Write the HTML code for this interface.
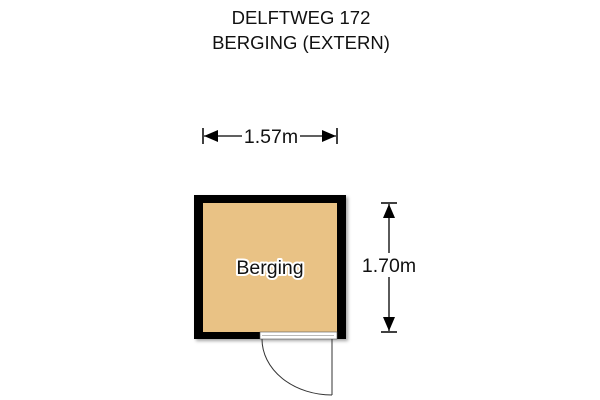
<!DOCTYPE html>
<html><head><style>
html,body{margin:0;padding:0;background:#fff;}
body{width:600px;height:400px;position:relative;overflow:hidden;font-family:"Liberation Sans",sans-serif;}
</style></head><body>
<svg width="600" height="400" viewBox="0 0 600 400" xmlns="http://www.w3.org/2000/svg" style="position:absolute;left:0;top:0">
<defs><filter id="sh" x="-10%" y="-10%" width="130%" height="130%"><feDropShadow dx="2" dy="2" stdDeviation="1.5" flood-color="#000" flood-opacity="0.35"/></filter></defs>
<text x="301" y="24" font-size="18.5" text-anchor="middle" fill="#111" font-family="Liberation Sans, sans-serif">DELFTWEG 172</text>
<text x="301" y="49" font-size="18.5" text-anchor="middle" fill="#111" font-family="Liberation Sans, sans-serif">BERGING (EXTERN)</text>
<!-- horizontal dim -->
<line x1="203" y1="128" x2="203" y2="144" stroke="#000" stroke-width="1.5"/>
<line x1="337" y1="128" x2="337" y2="144" stroke="#000" stroke-width="1.5"/>
<line x1="204" y1="136" x2="242" y2="136" stroke="#000" stroke-width="1.3"/>
<line x1="300" y1="136" x2="336" y2="136" stroke="#000" stroke-width="1.3"/>
<polygon points="204,136 218,130 218,142" fill="#000"/>
<polygon points="336,136 322,130 322,142" fill="#000"/>
<text x="271" y="143" font-size="19.5" text-anchor="middle" fill="#111" font-family="Liberation Sans, sans-serif">1.57m</text>
<!-- vertical dim -->
<line x1="381" y1="203" x2="397" y2="203" stroke="#000" stroke-width="1.5"/>
<line x1="381" y1="332" x2="397" y2="332" stroke="#000" stroke-width="1.5"/>
<line x1="389" y1="204" x2="389" y2="331" stroke="#000" stroke-width="1.3"/>
<polygon points="389,204 383,218 395,218" fill="#000"/>
<polygon points="389,331 383,317 395,317" fill="#000"/>
<rect x="360" y="253" width="60" height="24" fill="#fff"/>
<text x="389" y="272" font-size="19.5" text-anchor="middle" fill="#111" font-family="Liberation Sans, sans-serif">1.70m</text>
<!-- room -->
<rect x="194" y="195" width="152" height="144" fill="#000" filter="url(#sh)"/>
<rect x="203" y="203" width="134" height="129" fill="#e9c285"/>
<rect x="260" y="332" width="77" height="7" fill="#fff" stroke="#555" stroke-width="0.6"/>
<line x1="262" y1="335.5" x2="334" y2="335.5" stroke="#777" stroke-width="0.6"/>
<line x1="332" y1="339" x2="332" y2="395" stroke="#333" stroke-width="1"/>
<path d="M262 339 A70 56 0 0 0 332 395" fill="none" stroke="#333" stroke-width="1"/>
<text x="270" y="274" font-size="19.5" text-anchor="middle" fill="#fff" stroke="#fff" stroke-width="4" stroke-linejoin="round" font-family="Liberation Sans, sans-serif">Berging</text>
<text x="270" y="274" font-size="19.5" text-anchor="middle" fill="#111" font-family="Liberation Sans, sans-serif">Berging</text>
</svg>
</body></html>
